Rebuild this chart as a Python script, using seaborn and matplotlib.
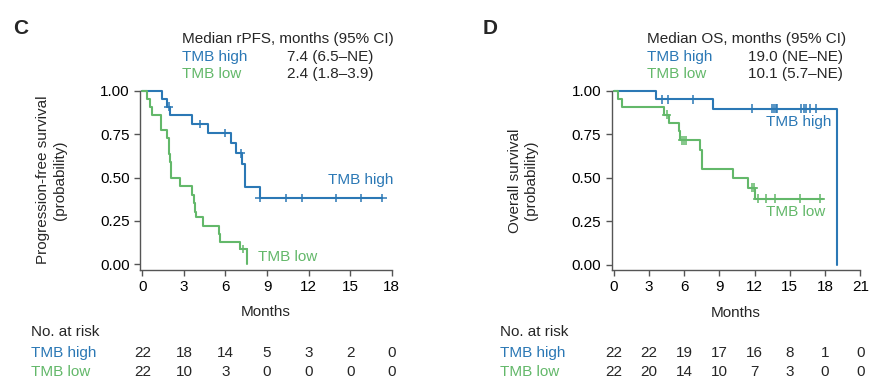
import pandas as pd
import matplotlib.pyplot as plt
import matplotlib.transforms as mtransforms
import seaborn as sns

# Kaplan-Meier steps (time in months, survival after the step)
pfs_high_t = [0, 1.42, 1.8, 2.0, 3.61, 4.72, 6.43, 6.75, 7.2, 7.4, 8.48, 17.33]
pfs_high_s = [1.0, 0.955, 0.909, 0.863, 0.81, 0.758, 0.698, 0.64, 0.577, 0.448, 0.383, 0.383]
pfs_high_cens_t = [1.9, 4.17, 6.0, 7.1, 8.48, 10.34, 11.54, 13.98, 15.78, 17.33]
pfs_high_cens_s = [0.909, 0.81, 0.758, 0.64, 0.383, 0.383, 0.383, 0.383, 0.383, 0.383]

pfs_low_t = [0, 0.36, 0.58, 0.67, 1.33, 1.8, 1.9, 1.95, 2.0, 2.05, 2.1, 2.7,
             3.61, 3.73, 3.83, 3.9, 4.39, 5.54, 5.64, 7.04, 7.52]
pfs_low_s = [1.0, 0.955, 0.909, 0.863, 0.773, 0.727, 0.682, 0.636, 0.59, 0.545, 0.5, 0.452,
             0.40, 0.352, 0.304, 0.275, 0.223, 0.173, 0.129, 0.088, 0.0]
pfs_low_cens_t = [7.28]
pfs_low_cens_s = [0.088]

os_high_t = [0, 3.64, 8.47, 19.05]
os_high_s = [1.0, 0.952, 0.898, 0.0]
os_high_cens_t = [4.15, 4.63, 6.77, 11.77, 13.5, 13.65, 13.79, 13.93, 15.98, 16.18, 16.35, 16.72, 17.2]
os_high_cens_s = [0.952, 0.952, 0.952, 0.898, 0.898, 0.898, 0.898, 0.898, 0.898, 0.898, 0.898, 0.898, 0.898]

os_low_t = [0, 0.37, 0.68, 4.29, 4.72, 5.52, 5.66, 7.39, 7.53, 10.12, 11.43, 12.03, 17.8]
os_low_s = [1.0, 0.955, 0.909, 0.864, 0.813, 0.767, 0.717, 0.66, 0.55, 0.498, 0.444, 0.381, 0.381]
os_low_cens_t = [4.5, 5.83, 6.0, 6.14, 11.8, 11.94, 12.25, 13.0, 13.7, 15.87, 17.6]
os_low_cens_s = [0.864, 0.717, 0.717, 0.717, 0.444, 0.444, 0.381, 0.381, 0.381, 0.381, 0.381]

pfs_ticks = [0, 3, 6, 9, 12, 15, 18]
pfs_risk_high = [22, 18, 14, 5, 3, 2, 0]
pfs_risk_low = [22, 10, 3, 0, 0, 0, 0]

os_ticks = [0, 3, 6, 9, 12, 15, 18, 21]
os_risk_high = [22, 22, 19, 17, 16, 8, 1, 0]
os_risk_low = [22, 20, 14, 10, 7, 3, 0, 0]

groups = ['TMB high', 'TMB low']
blue = '#2b78b5'
green = '#63b86a'
palette = {'TMB high': blue, 'TMB low': green}

sns.set_theme(style='ticks')
plt.rcParams['font.family'] = ['Liberation Sans', 'DejaVu Sans']
plt.rcParams['font.size'] = 11


def km_frame(th, sh, tl, sl):
    return pd.concat([
        pd.DataFrame({'t': th, 's': sh, 'grp': 'TMB high'}),
        pd.DataFrame({'t': tl, 's': sl, 'grp': 'TMB low'}),
    ], ignore_index=True)


def draw_panel(ax, curves, cens, ticks, xmax, ylab):
    sns.lineplot(data=curves, x='t', y='s', hue='grp', palette=palette, estimator=None,
                 sort=False, drawstyle='steps-post', linewidth=1.5, legend=False, ax=ax)
    sns.scatterplot(data=cens, x='t', y='s', hue='grp', palette=palette, marker='+',
                    s=40, linewidth=1.1, legend=False, ax=ax, zorder=3)
    for ln in ax.lines:
        ln.set_clip_on(False)
    for c in ax.collections:
        c.set_clip_on(False)
    ax.set_xlim(-0.17, xmax)
    ax.set_ylim(-0.03, 1.0)
    ax.set_xticks(ticks)
    ax.set_yticks([0, 0.25, 0.5, 0.75, 1.0])
    ax.set_yticklabels(['0.00', '0.25', '0.50', '0.75', '1.00'])
    ax.set_xlabel('Months', fontsize=11, labelpad=8)
    ax.set_ylabel(ylab, fontsize=11, labelpad=24)
    for side in ['top', 'right']:
        ax.spines[side].set_visible(False)
    for side in ['left', 'bottom']:
        ax.spines[side].set_color('#555555')
        ax.spines[side].set_linewidth(1.0)
    ax.tick_params(colors='#555555', labelcolor='black', labelsize=11, length=4, width=1.0)


fig = plt.figure(figsize=(8.77, 3.9), dpi=100)
ax1 = fig.add_axes([140 / 877, 1 - 269.5 / 390, 251.7 / 877, 178.5 / 390])
ax2 = fig.add_axes([611.7 / 877, 1 - 270 / 390, 248.6 / 877, 179 / 390])

draw_panel(ax1, km_frame(pfs_high_t, pfs_high_s, pfs_low_t, pfs_low_s),
           km_frame(pfs_high_cens_t, pfs_high_cens_s, pfs_low_cens_t, pfs_low_cens_s),
           pfs_ticks, 18, 'Progression-free survival\n(probability)')
draw_panel(ax2, km_frame(os_high_t, os_high_s, os_low_t, os_low_s),
           km_frame(os_high_cens_t, os_high_cens_s, os_low_cens_t, os_low_cens_s),
           os_ticks, 21, 'Overall survival\n(probability)')

# curve labels
ax1.text(13.4, 0.486, 'TMB high', color=blue, fontsize=11, va='center')
ax1.text(8.35, 0.042, 'TMB low', color=green, fontsize=11, va='center')
ax2.text(12.97, 0.821, 'TMB high', color=blue, fontsize=11, va='center')
ax2.text(12.97, 0.302, 'TMB low', color=green, fontsize=11, va='center')

# panel letters and medians
fig.text(13 / 877, 1 - 29 / 390, 'C', fontsize=15, fontweight='bold', va='center')
fig.text(483 / 877, 1 - 29 / 390, 'D', fontsize=15, fontweight='bold', va='center')

headers = [
    (182, 287, 'Median rPFS, months (95% CI)', ['7.4 (6.5–NE)', '2.4 (1.8–3.9)']),
    (647, 748, 'Median OS, months (95% CI)', ['19.0 (NE–NE)', '10.1 (5.7–NE)']),
]
for x0, xv, title, vals in headers:
    fig.text(x0 / 877, 1 - 39 / 390, title, fontsize=11, va='center')
    for i, (g, v) in enumerate(zip(groups, vals)):
        y = 1 - (57 + 17 * i) / 390
        fig.text(x0 / 877, y, g, color=palette[g], fontsize=11, va='center')
        fig.text(xv / 877, y, v, fontsize=11, va='center')

# numbers at risk
for ax, xl, ticks, rh, rl in [(ax1, 31, pfs_ticks, pfs_risk_high, pfs_risk_low),
                              (ax2, 500, os_ticks, os_risk_high, os_risk_low)]:
    fig.text(xl / 877, 1 - 332 / 390, 'No. at risk', fontsize=11, va='center')
    trans = mtransforms.blended_transform_factory(ax.transData, fig.transFigure)
    for i, (g, row) in enumerate(zip(groups, [rh, rl])):
        y = 1 - (353 + 19 * i) / 390
        fig.text(xl / 877, y, g, color=palette[g], fontsize=11, va='center')
        for t, n in zip(ticks, row):
            ax.text(t, y, str(n), transform=trans, fontsize=11, ha='center', va='center')

fig.savefig('out.png', dpi=100)
